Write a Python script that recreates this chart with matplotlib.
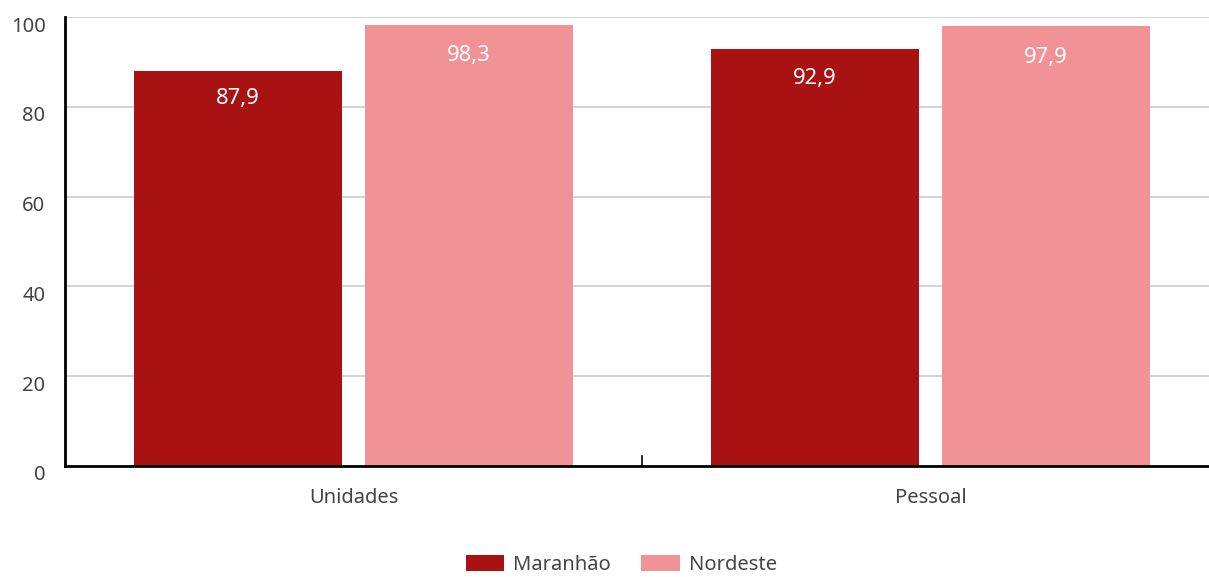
import matplotlib.pyplot as plt
import matplotlib.transforms as mtransforms
import numpy as np

plt.rcParams['font.family'] = ['Noto Sans', 'DejaVu Sans']

categories = ['Unidades', 'Pessoal']
maranhao = [87.9, 92.9]
nordeste = [98.3, 97.9]
series_names = ['Maranhão', 'Nordeste']
colors = ['#A81212', '#F19297']
text_color = '#444444'

fig = plt.figure(figsize=(12.09, 5.77), dpi=100)
ax = fig.add_axes([65 / 1209, 1 - 466 / 577, 1154 / 1209, 449 / 577])

x = np.arange(len(categories))
w = 0.36
b1 = ax.bar(x - 0.2, maranhao, w, color=colors[0], label=series_names[0], zorder=3)
b2 = ax.bar(x + 0.2, nordeste, w, color=colors[1], label=series_names[1], zorder=3)

def fmt(v):
    return f'{v:.1f}'.replace('.', ',')

# value labels sit a little inside the top of each bar
for bars, vals in [(b1, maranhao), (b2, nordeste)]:
    for r, v in zip(bars, vals):
        ax.text(r.get_x() + r.get_width() / 2, v * 0.93, fmt(v),
                ha='center', va='center', color='white', fontsize=15.8, zorder=4)

ax.set_xlim(-0.5, 1.5)
ax.set_ylim(0, 100)
ax.set_yticks([0, 20, 40, 60, 80, 100])
ax.yaxis.grid(True, color='#cccccc', linewidth=1.2, zorder=0)
ax.set_xticks(x)
ax.set_xticklabels(categories, color=text_color, fontsize=14.5)
ax.tick_params(axis='x', length=0, pad=16)
ax.tick_params(axis='y', length=0, labelsize=14.5, labelcolor=text_color, pad=14)
off = mtransforms.ScaledTranslation(0, -7 / 100, fig.dpi_scale_trans)
for lab in ax.get_yticklabels():
    lab.set_transform(lab.get_transform() + off)

# divider tick between categories
ax.plot([0.5, 0.5], [0, 2.3], color='black', linewidth=1.2, zorder=4, clip_on=False)

for s in ['top', 'right']:
    ax.spines[s].set_visible(False)
ax.spines['left'].set_linewidth(2)
ax.spines['bottom'].set_linewidth(2)
ax.spines['left'].set_zorder(5)
ax.spines['bottom'].set_zorder(5)

fig.legend(loc='lower center', bbox_to_anchor=(0.514, -0.028), ncol=2, frameon=False,
           fontsize=14.5, handlelength=1.9, handleheight=0.8, columnspacing=1.5,
           handletextpad=0.45, labelcolor=text_color)

fig.savefig('out.png', dpi=100)
